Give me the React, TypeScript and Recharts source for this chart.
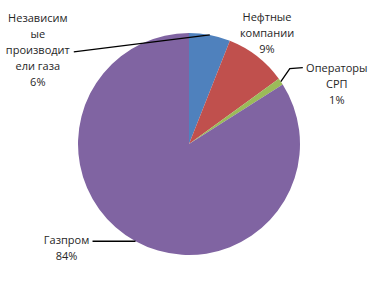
import React from "react";
import { PieChart, Pie, Cell } from "recharts";

const categories = [
    ["Независим", "ые", "производит", "ели газа"],
    ["Нефтные", "компании"],
    ["Операторы", "СРП"],
    ["Газпром"],
];
const shares = [6, 9, 1, 84];
const colors = ["#4F81BD", "#C0504D", "#9BBB59", "#8064A2"];

const data = categories.map((lines, i) => ({
    name: lines.join(""),
    lines,
    value: shares[i],
}));

// label block centre relative to the slice's outer edge point,
// plus bend points of the leader line (null = no line)
const labelPlace = [
    { dx: -172, dy: 14, line: [[-136, 17]] },
    { dx: 10, dy: -24, line: null },
    { dx: 56, dy: 1, line: [[9, -13], [22, -14]] },
    { dx: -69, dy: 6, line: [[-43, 0]] },
];

const RAD = Math.PI / 180;
const LINE_H = 16;

const renderLabel = (props: any) => {
    const { cx, cy, midAngle, outerRadius, index, value } = props;
    const ex = cx + outerRadius * Math.cos(-midAngle * RAD);
    const ey = cy + outerRadius * Math.sin(-midAngle * RAD);
    const place = labelPlace[index];
    const tx = ex + place.dx;
    const ty = ey + place.dy;
    const lines = [...data[index].lines, `${value}%`];
    const top = ty - ((lines.length - 1) * LINE_H) / 2;
    return (
        <g key={`lbl-${index}`}>
            {place.line && (
                <polyline
                    points={[[0, 0], ...place.line]
                        .map(([x, y]) => `${ex + x},${ey + y}`)
                        .join(" ")}
                    fill="none"
                    stroke="#000"
                    strokeWidth={1.3}
                />
            )}
            <text
                x={tx}
                y={top}
                textAnchor="middle"
                dominantBaseline="central"
                fontFamily="'Open Sans', sans-serif"
                fontSize={11}
                fill="#262626"
            >
                {lines.map((l, i) => (
                    <tspan key={i} x={tx} y={top + i * LINE_H}>
                        {l}
                    </tspan>
                ))}
            </text>
        </g>
    );
};

const App = () => {
    return (
        <div style={{ position: "absolute", left: 0, top: 0 }}>
            <PieChart
                width={377}
                height={288}
                margin={{ top: 0, right: 0, bottom: 0, left: 0 }}
            >
                <Pie
                    data={data}
                    dataKey="value"
                    cx={189}
                    cy={144}
                    outerRadius={111}
                    startAngle={90}
                    endAngle={-270}
                    stroke="none"
                    label={renderLabel}
                    labelLine={false}
                    isAnimationActive={false}
                >
                    {data.map((entry, index) => (
                        <Cell key={`cell-${index}`} fill={colors[index]} />
                    ))}
                </Pie>
            </PieChart>
        </div>
    );
};

export default App;
